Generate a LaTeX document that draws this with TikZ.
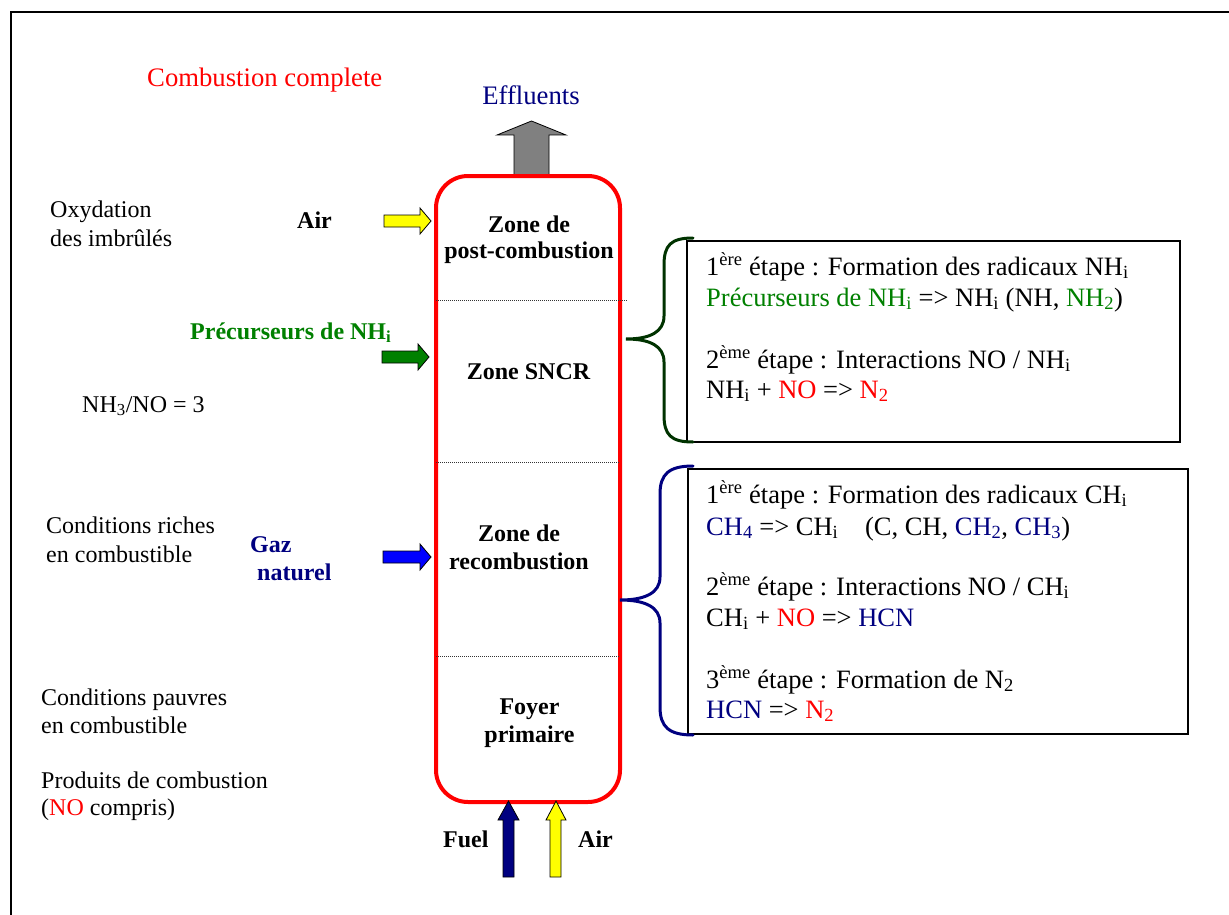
\documentclass[tikz,border=0pt]{standalone}
\usepackage{fontspec}
\setmainfont{Liberation Serif}
\definecolor{navy}{RGB}{0,0,128}
\definecolor{leafgreen}{RGB}{0,128,0}
\definecolor{bracegreen}{RGB}{0,51,0}
\definecolor{airyellow}{RGB}{255,255,0}
\definecolor{gasblue}{RGB}{0,0,255}
\definecolor{fumegray}{RGB}{128,128,128}
\newcommand{\lo}[1]{\textsubscript{#1}}
\newcommand{\hi}[1]{\textsuperscript{#1}}
\begin{document}
\begin{tikzpicture}[x=1pt,y=-1pt,
  bigtxt/.style={font=\fontsize{26.7}{31}\selectfont, inner sep=0pt},
  boxtxt/.style={font=\fontsize{26.5}{31}\selectfont, inner sep=0pt},
  medtxt/.style={font=\fontsize{24}{29}\selectfont, inner sep=0pt},
  boldtxt/.style={font=\fontsize{24}{29}\selectfont\bfseries, inner sep=0pt},
  lw/.style={anchor=base west},
  mid/.style={anchor=base},
  column/.style={draw=red, line width=4pt, rounded corners=32pt,
    minimum width=184pt, minimum height=626pt, inner sep=0pt},
  infobox/.style={draw=black, line width=1.8pt, inner sep=0pt, anchor=north west},
  blockarrow/.style={draw=black, line width=0.8pt, line join=miter},
  zoneline/.style={line width=0.8pt, black!80, dash pattern=on 1pt off 1pt},
  brace/.style={line width=3pt, line cap=round}
]
\useasboundingbox (0,0) rectangle (1229,915);
\fill[white] (0,0) rectangle (1229,915);

% outer frame
\draw[line width=2pt] (11,915) -- (11,12) -- (1229,12);

% exhaust arrow on top of the furnace
\filldraw[blockarrow, fill=fumegray] (514,176) -- (514,135) -- (497,135) -- (531.5,121)
  -- (566,135) -- (549,135) -- (549,176) -- cycle;
\node[bigtxt, mid, text=navy] (eff) at (531,105) {Effluents};

% furnace column
\node[column] (col) at (528,489) {};
\draw[zoneline] (436,300) -- (628,300);
\draw[zoneline] (436,462) -- (620,462);
\draw[zoneline] (436,656) -- (620,656);

% zone names
\node[boldtxt, mid] (z1a) at (529,232) {Zone de};
\node[boldtxt, mid] (z1b) at (529,258) {post-combustion};
\node[boldtxt, mid] (z2) at (528.5,379) {Zone SNCR};
\node[boldtxt, mid] (z3a) at (519,541) {Zone de};
\node[boldtxt, mid] (z3b) at (519,569) {recombustion};
\node[boldtxt, mid] (z4a) at (529.5,714) {Foyer};
\node[boldtxt, mid] (z4b) at (529.5,742) {primaire};

% side injections
\filldraw[blockarrow, fill=airyellow] (384,215) -- (420,215) -- (420,208) -- (431,221)
  -- (420,234) -- (420,227) -- (384,227) -- cycle;
\filldraw[blockarrow, fill=leafgreen] (382,351) -- (418,351) -- (418,344) -- (429,357)
  -- (418,370) -- (418,363) -- (382,363) -- cycle;
\filldraw[blockarrow, fill=gasblue] (383,551) -- (420,551) -- (420,544) -- (431,557)
  -- (420,570) -- (420,563) -- (383,563) -- cycle;

% bottom feeds
\filldraw[blockarrow, fill=navy] (503,877) -- (503,820) -- (498,820) -- (508.5,801)
  -- (519,820) -- (514,820) -- (514,877) -- cycle;
\filldraw[blockarrow, fill=airyellow] (550,877) -- (550,820) -- (546,820) -- (556,801)
  -- (566,820) -- (561,820) -- (561,877) -- cycle;

% injection labels
\node[boldtxt, lw] (airtop) at (297,228) {Air};
\node[boldtxt, lw, text=leafgreen] (prec) at (190,339) {Précurseurs de NH\lo{i}};
\node[boldtxt, lw, text=navy] (gaz1) at (250,552) {Gaz};
\node[boldtxt, lw, text=navy] (gaz2) at (257,580) {naturel};
\node[boldtxt, lw] (fuel) at (443,847) {Fuel};
\node[boldtxt, lw] (airbot) at (578,847) {Air};

% left-hand notes
\node[bigtxt, lw, text=red] (title) at (147,87) {Combustion complete};
\node[medtxt, lw] (n1a) at (50,217) {Oxydation};
\node[medtxt, lw] (n1b) at (50,246) {des imbrûlés};
\node[medtxt, lw] (n2) at (82,412) {NH\lo{3}/NO = 3};
\node[medtxt, lw] (n3a) at (46,533) {Conditions riches};
\node[medtxt, lw] (n3b) at (46,562) {en combustible};
\node[medtxt, lw] (n4a) at (41,705) {Conditions pauvres};
\node[medtxt, lw] (n4b) at (41,733) {en combustible};
\node[medtxt, lw] (n5a) at (41,788) {Produits de combustion};
\node[medtxt, lw] (n5b) at (41,815) {(\textcolor{red}{NO} compris)};

% SNCR mechanism
\node[infobox, minimum width=493pt, minimum height=201pt] (box1) at (686,240) {};
\draw[brace, bracegreen] (693,238) .. controls (671,238) and (664,245) .. (664,265)
  -- (664,316) .. controls (664,332) and (650,339) .. (626,339)
  .. controls (650,339) and (664,346) .. (664,362)
  -- (664,415) .. controls (664,435) and (671,442) .. (693,442);
\node[boxtxt, lw] (s1a) at (706,275) {1\hi{ère} étape : Formation des radicaux NH\lo{i}};
\node[boxtxt, lw] (s1b) at (706,306) {\textcolor{leafgreen}{Précurseurs de NH\lo{i}} => NH\lo{i} (NH, \textcolor{leafgreen}{NH\lo{2}})};
\node[boxtxt, lw] (s1c) at (706,368) {2\hi{ème} étape : Interactions NO / NH\lo{i}};
\node[boxtxt, lw] (s1d) at (706,398) {NH\lo{i} + \textcolor{red}{NO} => \textcolor{red}{N\lo{2}}};

% reburning mechanism
\node[infobox, minimum width=500pt, minimum height=265pt] (box2) at (687,468) {};
\draw[brace, navy] (693,466) .. controls (669,466) and (660,474) .. (660,494)
  -- (660,577) .. controls (660,593) and (645,600) .. (620,600)
  .. controls (645,600) and (660,607) .. (660,623)
  -- (660,707) .. controls (660,727) and (669,735) .. (693,735);
\node[boxtxt, lw] (s2a) at (706,503) {1\hi{ère} étape : Formation des radicaux CH\lo{i}};
\node[boxtxt, lw] (s2b) at (706,535) {\textcolor{navy}{CH\lo{4}} => CH\lo{i}\hspace{20pt} (C, CH, \textcolor{navy}{CH\lo{2}}, \textcolor{navy}{CH\lo{3}})};
\node[boxtxt, lw] (s2c) at (706,595) {2\hi{ème} étape : Interactions NO / CH\lo{i}};
\node[boxtxt, lw] (s2d) at (706,626) {CH\lo{i} + \textcolor{red}{NO} => \textcolor{navy}{HCN}};
\node[boxtxt, lw] (s2e) at (706,688) {3\hi{ème} étape : Formation de N\lo{2}};
\node[boxtxt, lw] (s2f) at (706,718) {\textcolor{navy}{HCN} => \textcolor{red}{N\lo{2}}};
\end{tikzpicture}
\end{document}
